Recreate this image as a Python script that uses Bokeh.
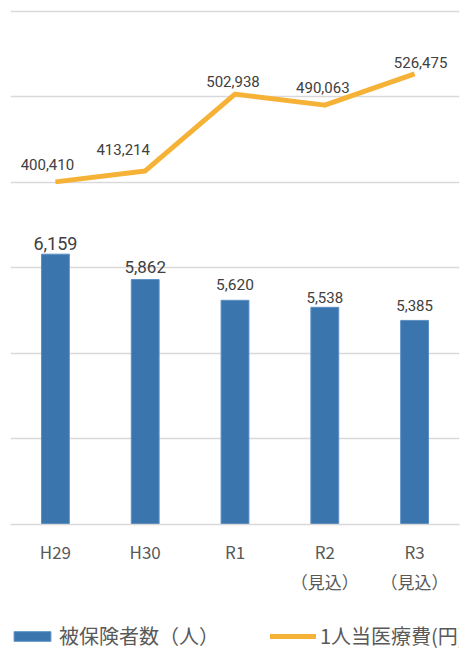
from bokeh.plotting import figure
from bokeh.layouts import column
from bokeh.models import (Range1d, FactorRange, ColumnDataSource, FixedTicker,
                          Legend, LegendItem, LabelSet)
from bokeh.core.properties import value
from bokeh.embed import file_html
from bokeh.resources import INLINE

# ---- data ----
categories = ["H29", "H30", "R1", "R2\n（見込）", "R3\n（見込）"]
insured = [6159, 5862, 5620, 5538, 5385]                 # 被保険者数（人）
cost_per_person = [400410, 413214, 502938, 490063, 526475]  # 1人当医療費(円)
insured_axis_ticks = [3000, 4000, 5000, 6000, 7000, 8000, 9000]
series_names = ["被保険者数（人）", "1人当医療費(円)"]

# ---- label layout (screen px) ----
bar_label_size = ["18px", "17px", "15.5px", "15px", "15px"]
bar_label_dy = [4, 7, 10, 4, 9]
line_label_dx = [-8, -22, -2, -2, 6]
line_label_dy = [12, 16, 7, 12, 6]

BLUE = "#3A75AE"
BLUE_EDGE = "#5B8FC4"
ORANGE = "#F5B237"
GRID = "#D9D9D9"
NUM_FONT = "Roboto"
JP_FONT = "Noto Sans CJK JP"

src = ColumnDataSource(dict(
    cat=categories,
    insured=insured,
    cost=cost_per_person,
    insured_label=[f"{v:,}" for v in insured],
    cost_label=[f"{v:,}" for v in cost_per_person],
    bsize=bar_label_size,
    bdy=bar_label_dy,
    ldx=line_label_dx,
    ldy=line_label_dy,
))

p = figure(x_range=FactorRange(factors=categories),
           y_range=Range1d(3000, 9030),
           frame_width=449, frame_height=516,
           output_backend="svg", toolbar_location=None,
           min_border_left=10, min_border_right=17,
           min_border_top=8, min_border_bottom=88)
p.extra_y_ranges = {"cost": Range1d(0, 603000)}
p.outline_line_color = None
p.background_fill_color = "white"

bars = p.vbar(x="cat", top="insured", bottom=3000, width=0.31, source=src,
              fill_color=BLUE, line_color=BLUE_EDGE, line_width=1)
line = p.line(x="cat", y="cost", source=src, y_range_name="cost",
              line_color=ORANGE, line_width=5, line_join="round")

# grid
p.xgrid.visible = False
p.ygrid.ticker = FixedTicker(ticks=insured_axis_ticks)
p.ygrid.grid_line_color = GRID
p.ygrid.grid_line_width = 1.5

# axes
p.yaxis.visible = False
xa = p.xaxis[0]
xa.axis_line_color = GRID
xa.axis_line_width = 1.5
xa.major_tick_line_color = None
xa.minor_tick_line_color = None
xa.major_tick_out = 0
xa.major_tick_in = 0
xa.major_label_text_font = JP_FONT
xa.major_label_text_font_size = "17px"
xa.major_label_text_color = "#595959"
xa.major_label_standoff = 14
xa.major_label_text_line_height = 1.2

# value labels
p.add_layout(LabelSet(x="cat", y="insured", text="insured_label", source=src,
                      y_offset="bdy", text_align="center",
                      text_baseline="alphabetic",
                      text_font=value(NUM_FONT), text_font_size="bsize",
                      text_color="#404040"))
p.add_layout(LabelSet(x="cat", y="cost", text="cost_label", source=src,
                      y_range_name="cost",
                      x_offset="ldx", y_offset="ldy", text_align="center",
                      text_baseline="alphabetic",
                      text_font=value(NUM_FONT), text_font_size="15px",
                      text_color="#404040"))

# ---- legend strip below the chart ----
lf = figure(width=476, height=51, x_range=(0, 1), y_range=(0, 1),
            output_backend="svg", toolbar_location=None,
            x_axis_location=None, y_axis_location=None,
            min_border=0)
lf.outline_line_color = None
lf.grid.visible = False
# legend-key renderers, placed outside the visible range of the strip
lbar = lf.vbar(x=[-10], top=[-10], width=0.1, fill_color=BLUE,
               line_color=BLUE_EDGE, line_width=1)
lline = lf.line(x=[-10, -9], y=[-10, -10], line_color=ORANGE, line_width=5,
                line_cap="round")

legend = Legend(items=[LegendItem(label=series_names[0], renderers=[lbar]),
                       LegendItem(label=series_names[1], renderers=[lline])],
                orientation="horizontal", location=(-1, 13),
                glyph_width=46, glyph_height=12, label_standoff=4,
                spacing=51, padding=0, margin=0,
                border_line_color=None, background_fill_alpha=0,
                label_text_font=JP_FONT, label_text_font_size="20px",
                label_text_color="#595959")
lf.add_layout(legend, "center")

layout = column(p, lf, spacing=0)
open("out.html", "w").write(file_html(layout, INLINE))
